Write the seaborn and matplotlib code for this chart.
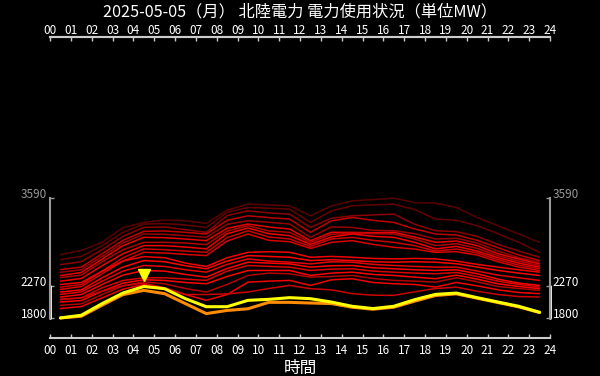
import matplotlib
matplotlib.use("Agg")
import matplotlib.pyplot as plt
import matplotlib.transforms as mtransforms
import pandas as pd
import seaborn as sns

HOURS = [0.5, 1.5, 2.5, 3.5, 4.5, 5.5, 6.5, 7.5, 8.5, 9.5, 10.5, 11.5,
         12.5, 13.5, 14.5, 15.5, 16.5, 17.5, 18.5, 19.5, 20.5, 21.5, 22.5, 23.5]
HOUR_TICKS = list(range(25))
HOUR_LABELS = [f"{h:02d}" for h in HOUR_TICKS]

TODAY = [1800, 1840, 2014, 2172, 2270, 2237, 2088, 1968, 1968, 2063, 2078, 2103,
         2088, 2038, 1974, 1940, 1974, 2073, 2152, 2172, 2103, 2038, 1974, 1885]
ACTUAL = [1800, 1825, 1990, 2148, 2212, 2163, 2014, 1865, 1912, 1937, 2033, 2033,
          2023, 2015, 1960, 1930, 1960, 2050, 2135, 2160, 2095, 2030, 1965, 1880]

PAST = {
    "U1": [2747, 2807, 2930, 3150, 3228, 3264, 3253, 3213, 3411, 3501, 3490, 3476,
           3327, 3473, 3550, 3570, 3590, 3525, 3516, 3451, 3302, 3178, 3055, 2930],
    "U2": [2671, 2720, 2880, 3080, 3204, 3210, 3190, 3153, 3380, 3451, 3440, 3427,
           3228, 3400, 3476, 3490, 3501, 3420, 3278, 3260, 3180, 3060, 2930, 2781],
    "U3": [2597, 2640, 2820, 3020, 3154, 3160, 3120, 3079, 3330, 3401, 3370, 3352,
           3153, 3290, 3327, 3340, 3352, 3200, 3104, 3090, 3020, 2900, 2800, 2707],
    "U4": [2522, 2560, 2760, 2960, 3094, 3100, 3080, 3055, 3260, 3327, 3300, 3278,
           3079, 3250, 3302, 3260, 3228, 3130, 3055, 3040, 2960, 2850, 2740, 2658],
    "U5": [2483, 2520, 2720, 2920, 3055, 3050, 3030, 3005, 3200, 3253, 3230, 3204,
           3005, 3160, 3153, 3110, 3104, 3060, 2980, 2990, 2920, 2800, 2700, 2633],
    "U6": [2433, 2480, 2680, 2880, 3005, 3000, 2980, 2955, 3140, 3204, 3160, 3129,
           2955, 3080, 3079, 3075, 3079, 3010, 2930, 2950, 2880, 2760, 2680, 2608],
    "U7": [2404, 2440, 2640, 2820, 2930, 2930, 2920, 2896, 3100, 3179, 3100, 3079,
           2930, 3050, 3064, 3060, 3055, 2980, 2881, 2910, 2840, 2730, 2650, 2584],
    "U8": [2350, 2390, 2580, 2760, 2881, 2880, 2860, 2832, 3060, 3144, 3060, 3030,
           2900, 3010, 3055, 3020, 3005, 2930, 2832, 2870, 2800, 2700, 2620, 2559],
    "U9": [2261, 2300, 2500, 2700, 2832, 2820, 2800, 2781, 3000, 3104, 3010, 2980,
           2870, 2980, 3005, 2960, 2930, 2880, 2800, 2830, 2770, 2670, 2590, 2535],
    "U10": [2227, 2270, 2460, 2650, 2781, 2770, 2750, 2732, 2950, 3055, 2960, 2940,
            2840, 2930, 2955, 2900, 2856, 2830, 2780, 2790, 2740, 2640, 2560, 2509],
    "L1": [2300, 2330, 2500, 2650, 2717, 2700, 2620, 2569, 2700, 2781, 2790, 2781,
           2707, 2720, 2707, 2690, 2683, 2690, 2683, 2650, 2600, 2560, 2520, 2484],
    "L2": [2187, 2220, 2400, 2560, 2658, 2640, 2580, 2535, 2650, 2732, 2720, 2707,
           2658, 2670, 2658, 2640, 2633, 2640, 2633, 2610, 2560, 2510, 2470, 2435],
    "L3": [2152, 2190, 2350, 2500, 2584, 2570, 2520, 2484, 2600, 2683, 2650, 2633,
           2608, 2640, 2633, 2600, 2584, 2570, 2559, 2560, 2500, 2440, 2400, 2361],
    "L4": [2113, 2150, 2300, 2440, 2509, 2500, 2450, 2410, 2540, 2633, 2620, 2608,
           2559, 2580, 2584, 2550, 2535, 2520, 2509, 2520, 2460, 2380, 2320, 2286],
    "L5": [2073, 2100, 2250, 2360, 2401, 2400, 2380, 2361, 2500, 2584, 2570, 2559,
           2509, 2530, 2535, 2500, 2484, 2470, 2460, 2480, 2420, 2350, 2300, 2261],
    "L6": [2038, 2060, 2200, 2320, 2371, 2360, 2330, 2311, 2420, 2509, 2510, 2509,
           2435, 2470, 2484, 2450, 2435, 2410, 2386, 2440, 2380, 2310, 2270, 2237],
    "L7": [1989, 2010, 2150, 2280, 2340, 2310, 2240, 2187, 2300, 2435, 2470, 2460,
           2410, 2420, 2435, 2390, 2361, 2350, 2335, 2400, 2340, 2270, 2240, 2212],
    "L8": [1940, 1970, 2100, 2230, 2300, 2250, 2150, 2063, 2150, 2335, 2350, 2361,
           2286, 2370, 2386, 2330, 2311, 2300, 2261, 2330, 2280, 2220, 2180, 2163],
    "L9": [2080, 2100, 2200, 2280, 2320, 2250, 2150, 2150, 2160, 2187, 2240, 2286,
           2237, 2220, 2163, 2140, 2137, 2190, 2240, 2260, 2200, 2150, 2120, 2113],
}
# brightness of each past day's red line
PAST_SHADE = {
    "U1": 0.35, "U2": 0.4, "U3": 0.55, "U4": 0.75, "U5": 0.6, "U6": 0.9, "U7": 0.7,
    "U8": 0.95, "U9": 0.8, "U10": 0.85, "L1": 0.95, "L2": 1.0, "L3": 0.9,
    "L4": 1.0, "L5": 0.85, "L6": 1.0, "L7": 0.7, "L8": 0.95, "L9": 0.8,
}

Y_TICKS = [1800, 2270, 3590]
Y_TICK_COLORS = ["white", "white", "#999999"]

sns.set_theme(style="dark", rc={
    "axes.facecolor": "black",
    "figure.facecolor": "black",
    "axes.grid": False,
})
plt.rcParams["font.family"] = ["Noto Sans CJK JP", "DejaVu Sans"]

past_df = pd.DataFrame(
    [(day, h, v) for day, vals in PAST.items() for h, v in zip(HOURS, vals)],
    columns=["day", "hour", "mw"],
)
palette = {day: (s, 0.0, 0.0) for day, s in PAST_SHADE.items()}

fig = plt.figure(figsize=(6, 3.76), dpi=100)
ax = fig.add_axes([50 / 600, 1 - 338 / 376, 500 / 600, 301 / 376])

sns.lineplot(data=past_df, x="hour", y="mw", hue="day", palette=palette,
             linewidth=1.1, legend=False, ax=ax)
sns.lineplot(x=HOURS, y=ACTUAL, color="#ff8c00", linewidth=2.2, ax=ax)
sns.lineplot(x=HOURS, y=TODAY, color="#ffff00", linewidth=2.2, ax=ax)

# peak marker above today's maximum
peak_i = TODAY.index(max(TODAY))
marker_tr = mtransforms.offset_copy(ax.transData, fig=fig, y=8, units="points")
ax.plot(HOURS[peak_i], TODAY[peak_i], marker="v", color="#ffff00",
        markersize=8, transform=marker_tr, linestyle="none")

ax.set_xlim(0, 24)
ax.set_ylim(1500, 6000)
ax.set_xticks(HOUR_TICKS)
ax.set_xticklabels(HOUR_LABELS)
ax.set_yticks(Y_TICKS)
ax.set_yticklabels([str(t) for t in Y_TICKS])

# bottom hour axis
ax.tick_params(axis="x", top=False, bottom=True, labeltop=False,
               labelbottom=True, direction="in", length=3, width=1,
               color="#cccccc", labelcolor="white", labelsize=8.5, pad=4.5)
# top hour axis
top = ax.secondary_xaxis("top")
top.set_xticks(HOUR_TICKS)
top.set_xticklabels(HOUR_LABELS)
top.tick_params(direction="in", length=3, width=1, color="#cccccc",
                labelcolor="white", labelsize=8.5, pad=0)
top.spines["top"].set_color("#cccccc")
top.spines["top"].set_linewidth(1.5)

ax.tick_params(axis="y", left=True, right=True, labelleft=True, labelright=True,
               direction="in", length=3, width=1, color="#999999",
               labelsize=8.5, pad=2)
for tick, col in zip(ax.yaxis.get_major_ticks(), Y_TICK_COLORS):
    for lab in (tick.label1, tick.label2):
        lab.set_color(col)
        lab.set_verticalalignment("baseline")
    tick.tick1line.set_color(col)
    tick.tick2line.set_color(col)

for side in ["top", "bottom"]:
    ax.spines[side].set_color("#cccccc")
    ax.spines[side].set_linewidth(1.5)
for side in ["left", "right"]:
    ax.spines[side].set_color("#999999")
    ax.spines[side].set_linewidth(1.5)
    ax.spines[side].set_bounds(min(Y_TICKS), max(Y_TICKS))

# white bracket marking today's range on both sides
bracket_tr = mtransforms.blended_transform_factory(ax.transAxes, ax.transData)
for xa in [0, 1]:
    ax.plot([xa, xa], [min(TODAY), max(TODAY)], color="white", linewidth=2,
            transform=bracket_tr, clip_on=False)

ax.set_xlabel("時間", color="white", fontsize=12, labelpad=2)
ax.set_ylabel("")
fig.text(0.5, 0.968, "2025-05-05（月） 北陸電力 電力使用状況（単位MW）",
         color="white", fontsize=11.7, ha="center", va="center")

fig.savefig("out.png", dpi=100, facecolor="black")
